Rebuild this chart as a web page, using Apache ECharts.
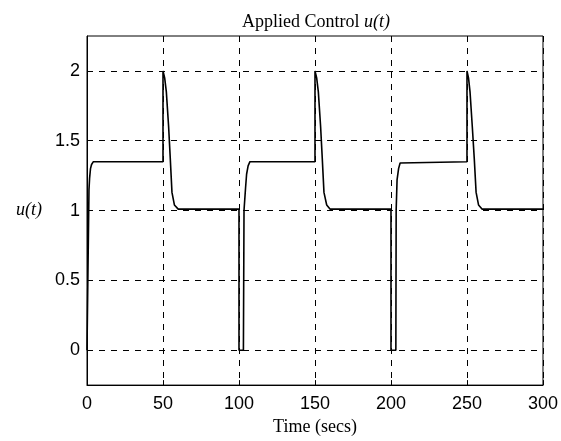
<!DOCTYPE html>
<html>
<head>
<meta charset="utf-8">
<script src="https://cdn.jsdelivr.net/npm/echarts@6/dist/echarts.min.js"></script>
<style>
html,body{margin:0;padding:0;background:#fff;}
#chart{width:561px;height:441px;}
</style>
</head>
<body>
<div id="chart"></div>
<script>
// Time samples (secs) and applied control u(t)
var timeData = [
  0, 1.2, 1.3, 1.7, 2.3, 3.0, 4.2, 50,
  50, 50.7, 51.1, 52.2, 53.7, 54.8, 55.9, 57.5, 60, 100,
  100, 102.9, 103.3, 104.3, 105.0, 106.0, 107.2, 150,
  150, 150.7, 151.1, 152.2, 153.7, 154.8, 155.9, 157.7, 160, 200,
  200, 203.2, 203.4, 204.0, 205.0, 206.0, 207.0, 250,
  250, 250.6, 251.0, 252.0, 253.5, 254.8, 256.0, 257.6, 260, 300
];
var uData = [
  0, 0, 1.15, 1.23, 1.30, 1.33, 1.35, 1.35,
  2.0, 2.0, 1.95, 1.85, 1.6, 1.37, 1.13, 1.04, 1.01, 1.01,
  0, 0, 1.0, 1.16, 1.26, 1.32, 1.35, 1.35,
  2.0, 2.0, 1.95, 1.85, 1.6, 1.37, 1.13, 1.04, 1.01, 1.01,
  0, 0, 1.0, 1.22, 1.30, 1.34, 1.35, 1.35,
  2.0, 2.0, 1.95, 1.85, 1.6, 1.37, 1.13, 1.04, 1.01, 1.01
];
var xTicks = [0, 50, 100, 150, 200, 250, 300];
var yTicks = [0, 0.5, 1, 1.5, 2];
var yGridLines = [0, 0.5, 1, 1.5, 2];

var points = timeData.map(function (t, i) { return [t, uData[i]]; });

var chart = echarts.init(document.getElementById('chart'));
var tickFont = { fontFamily: 'Liberation Sans, Arial, sans-serif', fontSize: 18, color: '#000' };
var serif = 'Liberation Serif, Times New Roman, serif';

chart.setOption({
  animation: false,
  backgroundColor: '#fff',
  title: {
    text: '{a|Applied Control }{b|u(t)}',
    left: 311,
    top: 8,
    textAlign: 'center',
    textStyle: {
      fontWeight: 'normal',
      rich: {
        a: { fontFamily: serif, fontSize: 18, fontWeight: 'normal', color: '#000' },
        b: { fontFamily: serif, fontSize: 18, fontWeight: 'normal', fontStyle: 'italic', color: '#000' }
      }
    }
  },
  grid: {
    left: 87, right: 18, top: 36, bottom: 54,
    show: true, borderColor: '#000', borderWidth: 1, backgroundColor: '#fff'
  },
  xAxis: {
    type: 'value',
    min: 0, max: 300, interval: 50,
    name: 'Time (secs)',
    nameLocation: 'middle',
    nameGap: 32,
    nameTextStyle: { fontFamily: serif, fontSize: 18, color: '#000' },
    axisLine: { show: true, onZero: false, lineStyle: { color: '#000', width: 1 } },
    axisTick: { show: true, inside: true, length: 5, lineStyle: { color: '#000' } },
    axisLabel: Object.assign({ margin: 10 }, tickFont),
    splitLine: { show: true, lineStyle: { color: '#000', type: [6, 6], width: 1 } }
  },
  yAxis: {
    type: 'value',
    min: -0.25, max: 2.25,
    name: 'u(t)',
    nameLocation: 'middle',
    nameRotate: 0,
    nameGap: 45,
    nameTextStyle: { fontFamily: serif, fontSize: 18, fontStyle: 'italic', color: '#000' },
    axisLine: { show: true, onZero: false, lineStyle: { color: '#000', width: 1 } },
    axisTick: { show: true, inside: true, length: 5, customValues: yTicks, lineStyle: { color: '#000' } },
    axisLabel: Object.assign({ margin: 7, customValues: yTicks }, tickFont),
    splitLine: { show: false }
  },
  series: [{
    type: 'line',
    data: points,
    showSymbol: false,
    symbol: 'none',
    lineStyle: { color: '#000', width: 1.6 },
    markLine: {
      silent: true,
      symbol: ['none', 'none'],
      label: { show: false },
      lineStyle: { color: '#000', type: [6, 6], width: 1 },
      data: yGridLines.map(function (v) { return { yAxis: v }; })
    },
    z: 3
  }]
});
</script>
</body>
</html>
